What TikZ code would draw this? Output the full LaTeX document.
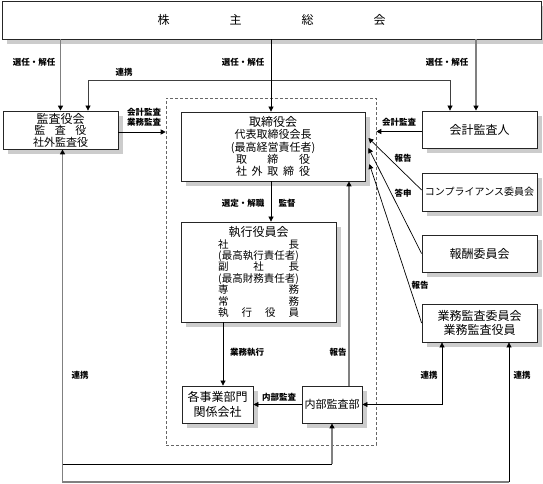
\documentclass[tikz,border=0pt]{standalone}
\usepackage{fontspec}
\setmainfont{Noto Sans CJK JP}
\usetikzlibrary{arrows.meta,shadows}

\tikzset{
  box/.style={draw=black!85, line width=0.8pt, fill=white, inner sep=0pt, align=center,
    drop shadow={shadow xshift=5pt, shadow yshift=-5pt, fill=black!20, opacity=1}},
  gline/.style={draw=black!50, line width=1.3pt},
  bline/.style={draw=black, line width=0.7pt},
  btip/.style={-{Triangle[length=5pt,width=5pt,color=black]}},
  rtip/.style={{Triangle[length=5pt,width=5pt,color=black]}-},
  bbtip/.style={{Triangle[length=5pt,width=5pt,color=black]}-{Triangle[length=5pt,width=5pt,color=black]}},
  lbl/.style={font=\fontsize{8.5}{10}\selectfont\bfseries, inner sep=0pt, align=center},
}
\newcommand\wrow[2]{\makebox[#1][s]{#2}}

\begin{document}
\begin{tikzpicture}[x=1pt,y=-1pt]
\useasboundingbox (0,0) rectangle (543,484);
% board scope
\node[draw=black!60, dash pattern=on 3pt off 2pt, line width=0.6pt,
  minimum width=210pt, minimum height=347pt, inner sep=0pt] (bd) at (271,271.5) {};

% boxes
\node[box, minimum width=539pt, minimum height=38pt, font=\fontsize{12}{12}\selectfont] (top) at (271.5,20)
  {株\hspace{60pt}主\hspace{60pt}総\hspace{60pt}会};
\node[box, minimum width=115pt, minimum height=38pt, font=\fontsize{11}{11.5}\selectfont] (kansa) at (60.5,130)
  {{\fontsize{12}{11.5}\selectfont 監査役会}\\ \wrow{52pt}{監\hfil 査\hfil 役}\\ 社外監査役};
\node[box, minimum width=184pt, minimum height=69pt, font=\fontsize{11}{12.2}\selectfont] (tori) at (273,146.5)
  {{\fontsize{12}{12.2}\selectfont 取締役会}\\ 代表取締役会長\\ (最高経営責任者)\\
   \wrow{74pt}{取\hfil 締\hfil 役}\\ \wrow{74pt}{社\hfil 外\hfil 取\hfil 締\hfil 役}};
\node[box, minimum width=115pt, minimum height=37pt, font=\fontsize{12}{12}\selectfont] (kaikei) at (479.5,129.5) {会計監査人};
\node[box, minimum width=115pt, minimum height=38pt, font=\fontsize{10}{10}\selectfont] (comp) at (479.5,192) {コンプライアンス委員会};
\node[box, minimum width=115pt, minimum height=37pt, font=\fontsize{12}{12}\selectfont] (hoshu) at (479.5,253.5) {報酬委員会};
\node[box, minimum width=115pt, minimum height=38pt, font=\fontsize{12}{14}\selectfont] (gyomu) at (479.5,323)
  {業務監査委員会\\ 業務監査役員};
\node[box, minimum width=155pt, minimum height=100pt, font=\fontsize{10.5}{11.4}\selectfont] (shikko) at (258.5,272)
  {{\fontsize{12}{11.4}\selectfont 執行役員会}\\ \wrow{81pt}{社\hfil 長}\\ (最高執行責任者)\\
   \wrow{81pt}{副\hfil 社\hfil 長}\\ (最高財務責任者)\\ \wrow{81pt}{専\hfil 務}\\
   \wrow{81pt}{常\hfil 務}\\ \wrow{81pt}{執\hfil 行\hfil 役\hfil 員}};
\node[box, minimum width=71pt, minimum height=37pt, font=\fontsize{12}{15}\selectfont] (jigyo) at (217.5,404.5)
  {各事業部門\\ 関係会社};
\node[box, minimum width=60pt, minimum height=37pt, font=\fontsize{11}{11}\selectfont] (naibu) at (332,404.5) {内部監査部};

% connector ends
\coordinate (ks1) at ([xshift=27.5pt]kansa.north);
\coordinate (ks2) at ([xshift=2pt]kansa.south);
\coordinate (ks3) at ([shift={(0,2)}]kansa.east);
\coordinate (kk1) at ([xshift=-29.5pt]kaikei.north);
\coordinate (kk2) at ([xshift=-3.5pt]kaikei.north);
\coordinate (kk3) at ([shift={(0,2)}]kaikei.west);
\coordinate (tr1) at ([xshift=-2pt]tori.north);
\coordinate (tr2) at ([xshift=-2pt]tori.south);
\coordinate (te1) at ([shift={(3,-8.5)}]tori.east);
\coordinate (te2) at ([shift={(3,1.5)}]tori.east);
\coordinate (te3) at ([shift={(4,17.5)}]tori.east);
\coordinate (cp1) at ([shift={(0,-2)}]comp.west);
\coordinate (sk1) at ([xshift=-35.5pt]shikko.south);
\coordinate (nb1) at ([xshift=17pt]naibu.north);
\coordinate (gy1) at ([xshift=-37.5pt]gyomu.south);
\coordinate (gy2) at ([xshift=29.5pt]gyomu.south);
\coordinate (mid) at (0,464);
\coordinate (bot) at (0,482);

% connectors
\draw[gline, btip] (top.south -| kansa.north) -- (kansa.north);
\draw[bline, draw=black!75, bbtip] (ks1) -- ++(0,-30) -| (kk1);
\draw[bline, btip] (top.south -| tr1) -- (tr1);
\draw[gline, btip] (top.south -| kk2) -- (kk2);
\draw[bline, btip] (ks3) -- (ks3 -| bd.west);
\draw[bline, btip] (kk3) -- (kk3 -| bd.east);
\draw[bline, btip] (cp1) -- (te1);
\draw[bline, btip] (hoshu.west) -- (te2);
\draw[bline, btip] (gyomu.west) -- (te3);
\draw[bline, btip] (tr2) -- (tr2 |- shikko.north);
\draw[bline, btip] (sk1) -- (sk1 |- jigyo.north);
\draw[gline, btip] (nb1) -- (nb1 |- tori.south);
\draw[bline, btip] (naibu.west) -- (jigyo.east);
\draw[bline, bbtip] (gy1) |- (naibu.east);
\draw[gline, rtip] (ks2) -- (ks2 |- bot) -- (gy2 |- bot);
\draw[bline, btip] (gy2 |- bot) -- (gy2);
\draw[bline] (ks2 |- mid) -- (naibu.south |- mid);
\draw[gline, btip] (naibu.south |- mid) -- (naibu.south);

% labels
\node[lbl] (l1) at (34,62) {選任・解任};
\node[lbl] (l2) at (243,62) {選任・解任};
\node[lbl] (l3) at (447,62) {選任・解任};
\node[lbl] (l4) at (124,72) {連携};
\node[lbl] (l5) at (144,117) {会計監査\\ 業務監査};
\node[lbl] (l6) at (399,122) {会計監査};
\node[lbl] (l7) at (403,158) {報告};
\node[lbl] (l8) at (403,193) {答申};
\node[lbl] (l9) at (420,285) {報告};
\node[lbl] (l10) at (243,203) {選定・解職};
\node[lbl] (l11) at (287,203) {監督};
\node[lbl] (l12) at (247,352) {業務執行};
\node[lbl] (l13) at (338,352) {報告};
\node[lbl] (l14) at (279,397) {内部監査};
\node[lbl] (l15) at (80,375) {連携};
\node[lbl] (l16) at (429,375) {連携};
\node[lbl] (l17) at (522,375) {連携};
\end{tikzpicture}
\end{document}
